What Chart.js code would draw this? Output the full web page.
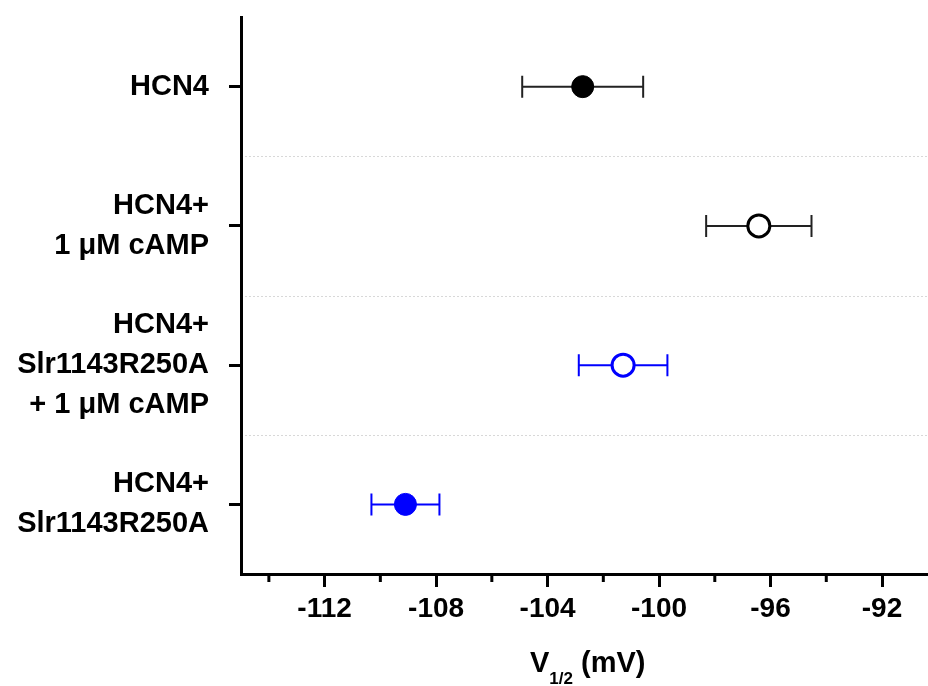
<!DOCTYPE html>
<html>
<head>
<meta charset="utf-8">
<script src="https://cdn.jsdelivr.net/npm/chart.js@4"></script>
<style>
  body { margin: 0; background: #fff; overflow: hidden; }
</style>
</head>
<body>
<canvas id="v12Chart" width="928" height="686"></canvas>
<script>
const conditions = [
  ['HCN4'],
  ['HCN4+', '1 μM cAMP'],
  ['HCN4+', 'Slr1143R250A', '+ 1 μM cAMP'],
  ['HCN4+', 'Slr1143R250A']
];
const v12Means = [-102.74, -96.42, -101.29, -109.10];
const v12Errors = [2.17, 1.89, 1.59, 1.22];
const majorTicks = [-112, -108, -104, -100, -96, -92];
const minorTicks = [-114, -110, -106, -102, -98, -94];
const fillColors = ['#000000', '#ffffff', '#ffffff', '#0000ff'];
const edgeColors = ['#000000', '#000000', '#0000ff', '#0000ff'];

const labelFont = { family: 'Liberation Sans, Arial, sans-serif', weight: 'bold', size: 29, lineHeight: 1.38 };

function noPadding(s) {
  s.paddingLeft = 0; s.paddingRight = 0; s.paddingTop = 0; s.paddingBottom = 0;
}

// error bars, drawn under the markers
const errorBars = {
  id: 'errorBars',
  beforeDatasetsDraw(chart) {
    const ctx = chart.ctx, xs = chart.scales.x, ys = chart.scales.y;
    ctx.save();
    ctx.lineWidth = 2;
    v12Means.forEach((m, i) => {
      const y = ys.getPixelForValue(i);
      const x1 = xs.getPixelForValue(m - v12Errors[i]);
      const x2 = xs.getPixelForValue(m + v12Errors[i]);
      ctx.strokeStyle = edgeColors[i] === '#000000' ? '#222222' : '#0000ff';
      ctx.beginPath();
      ctx.moveTo(x1, y); ctx.lineTo(x2, y);
      ctx.moveTo(x1, y - 11); ctx.lineTo(x1, y + 11);
      ctx.moveTo(x2, y - 11); ctx.lineTo(x2, y + 11);
      ctx.stroke();
    });
    ctx.restore();
  }
};

// dotted separators between groups, minor x ticks, axis title with subscript
const extras = {
  id: 'extras',
  beforeDraw(chart) {
    const ctx = chart.ctx, ys = chart.scales.y, area = chart.chartArea;
    ctx.save();
    ctx.strokeStyle = '#d8d8d8';
    ctx.lineWidth = 1;
    ctx.setLineDash([2, 2]);
    for (let i = 0; i < conditions.length - 1; i++) {
      const y = Math.round((ys.getPixelForValue(i) + ys.getPixelForValue(i + 1)) / 2) + 0.5;
      ctx.beginPath();
      ctx.moveTo(area.left + 4, y);
      ctx.lineTo(area.right, y);
      ctx.stroke();
    }
    ctx.restore();
  },
  afterDraw(chart) {
    const ctx = chart.ctx, xs = chart.scales.x, area = chart.chartArea;
    ctx.save();
    ctx.strokeStyle = '#000';
    ctx.lineWidth = 3;
    minorTicks.forEach(v => {
      const x = xs.getPixelForValue(v);
      ctx.beginPath();
      ctx.moveTo(x, area.bottom);
      ctx.lineTo(x, area.bottom + 8);
      ctx.stroke();
    });

    const big = 'bold 29px Liberation Sans, Arial, sans-serif';
    const small = 'bold 17px Liberation Sans, Arial, sans-serif';
    ctx.fillStyle = '#000';
    ctx.textBaseline = 'alphabetic';
    ctx.textAlign = 'left';
    ctx.font = big; const wV = ctx.measureText('V').width;
    ctx.font = small; const wS = ctx.measureText('1/2').width;
    ctx.font = big; const wU = ctx.measureText(' (mV)').width;
    let x = 530;
    const base = 672;
    ctx.font = big; ctx.fillText('V', x, base); x += wV;
    ctx.font = small; ctx.fillText('1/2', x, base + 12); x += wS;
    ctx.font = big; ctx.fillText(' (mV)', x, base);
    ctx.restore();
  }
};

new Chart(document.getElementById('v12Chart').getContext('2d'), {
  type: 'line',
  data: {
    labels: conditions,
    datasets: [{
      data: v12Means,
      showLine: false,
      pointRadius: 11,
      pointHoverRadius: 11,
      pointBorderWidth: [1, 3, 3, 1],
      pointBackgroundColor: fillColors,
      pointBorderColor: edgeColors
    }]
  },
  options: {
    responsive: false,
    animation: false,
    events: [],
    indexAxis: 'y',
    layout: { autoPadding: false, padding: { top: 17, right: 0, left: 0, bottom: 0 } },
    plugins: { legend: { display: false }, tooltip: { enabled: false } },
    scales: {
      x: {
        type: 'linear',
        min: -115,
        max: -90.35,
        afterBuildTicks: s => { s.ticks = majorTicks.map(v => ({ value: v })); },
        afterFit: s => { s.height = 112; noPadding(s); },
        border: { display: true, color: '#000', width: 3 },
        grid: { drawOnChartArea: false, color: '#000', tickLength: 13, tickWidth: 3 },
        ticks: {
          color: '#000',
          padding: 5,
          maxRotation: 0,
          autoSkip: false,
          font: { family: 'Liberation Sans, Arial, sans-serif', weight: 'bold', size: 28 }
        }
      },
      y: {
        type: 'category',
        offset: true,
        afterFit: s => { s.width = 241; noPadding(s); },
        border: { display: true, color: '#000', width: 3 },
        grid: { drawOnChartArea: false, color: '#000', tickLength: 12, tickWidth: 3 },
        ticks: { color: '#000', padding: 20, autoSkip: false, font: labelFont }
      }
    }
  },
  plugins: [errorBars, extras]
});
</script>
</body>
</html>
